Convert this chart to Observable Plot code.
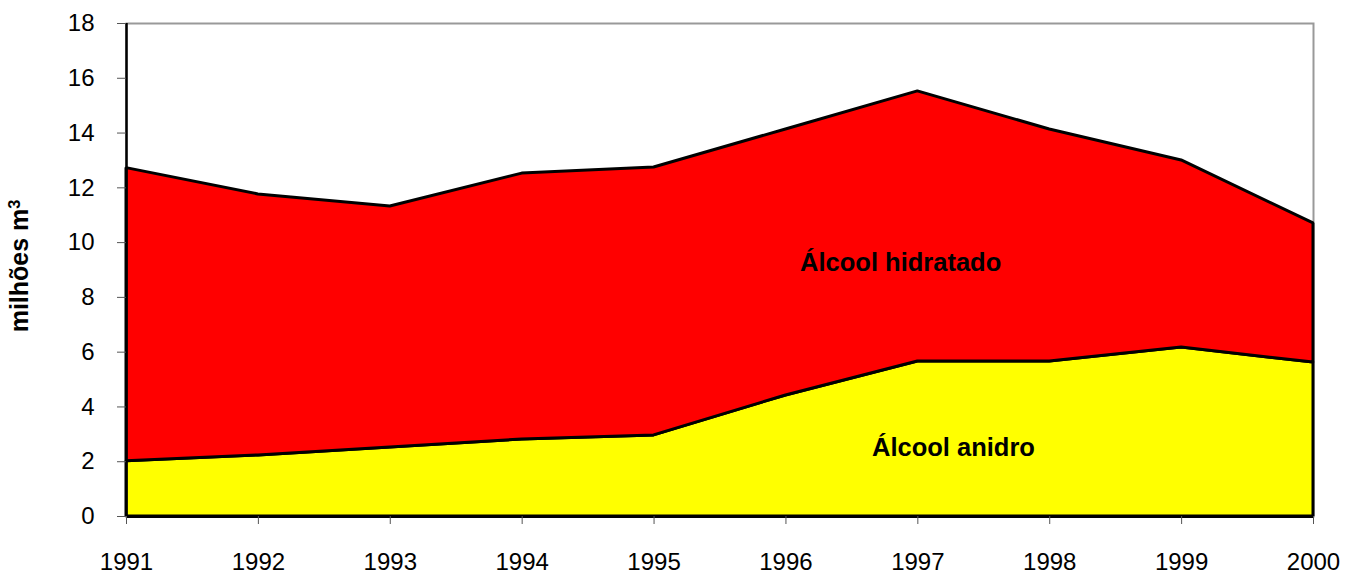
<!DOCTYPE html>
<html>
<head>
<meta charset="utf-8">
<script src="https://cdn.jsdelivr.net/npm/d3@7"></script>
<script src="https://cdn.jsdelivr.net/npm/@observablehq/plot@0.6"></script>
<style>
  html, body { margin: 0; padding: 0; background: #fff; }
  #chart svg { display: block; }
</style>
</head>
<body>
<div id="chart"></div>
<script>
const years = [1991, 1992, 1993, 1994, 1995, 1996, 1997, 1998, 1999, 2000];
const anidro = [2.02, 2.23, 2.52, 2.81, 2.96, 4.42, 5.66, 5.66, 6.17, 5.62];
const hidratado = [10.70, 9.53, 8.80, 9.71, 9.78, 9.71, 9.86, 8.47, 6.83, 5.08];
const seriesNames = ["Álcool anidro", "Álcool hidratado"];
const seriesColors = ["#ffff00", "#ff0000"];
const yTicks = [0, 2, 4, 6, 8, 10, 12, 14, 16, 18];
const yLabel = "milhões m³";
const labelPos = [
  {name: "Álcool hidratado", x: 1996.87, y: 9.25},
  {name: "Álcool anidro", x: 1997.27, y: 2.5}
];

const rows = [];
years.forEach((yr, i) => {
  rows.push({year: yr, series: seriesNames[0], value: anidro[i]});
  rows.push({year: yr, series: seriesNames[1], value: hidratado[i]});
});

const chart = Plot.plot({
  width: 1359,
  height: 579,
  marginLeft: 126,
  marginRight: 46,
  marginTop: 23,
  marginBottom: 63,
  style: {fontFamily: "'Liberation Sans', Arial, sans-serif", fontSize: "24px", background: "#fff", color: "#000"},
  x: {domain: [1991, 2000], ticks: years, tickFormat: d3.format("d"), label: null},
  y: {domain: [0, 18], ticks: yTicks, label: null},
  color: {domain: seriesNames, range: seriesColors},
  marks: [
    Plot.frame({stroke: "#999", strokeWidth: 2}),
    Plot.areaY(rows, Plot.stackY({x: "year", y: "value", fill: "series", order: seriesNames, stroke: "#000", strokeWidth: 3, strokeLinejoin: "miter"})),
    Plot.ruleX([1991], {stroke: "#000", strokeWidth: 2.5}),
    Plot.ruleY([0], {stroke: "#000", strokeWidth: 3}),
    Plot.axisY({ticks: yTicks, tickSize: 9, tickPadding: 23, stroke: "#555", fontSize: 24, label: null}),
    Plot.axisX({ticks: years, tickSize: 8, tickPadding: 28, stroke: "#555", fontSize: 24, tickFormat: d3.format("d"), label: null}),
    Plot.text(labelPos, {x: "x", y: "y", text: "name", fontWeight: "bold", fontSize: 25.5, fill: "#000"}),
    Plot.text([yLabel], {frameAnchor: "left", textAnchor: "middle", rotate: -90, dx: -107, dy: -4, fontWeight: "bold", fontSize: 25, fill: "#000"})
  ]
});
document.getElementById("chart").appendChild(chart);

// render the unit with a true superscript
d3.select(chart).selectAll("text").filter(function() { return this.textContent === yLabel; })
  .each(function() {
    const t = d3.select(this);
    t.text("milhões m");
    t.append("tspan").attr("dy", "-0.45em").attr("font-size", "0.65em").text("3");
  });
</script>
</body>
</html>
